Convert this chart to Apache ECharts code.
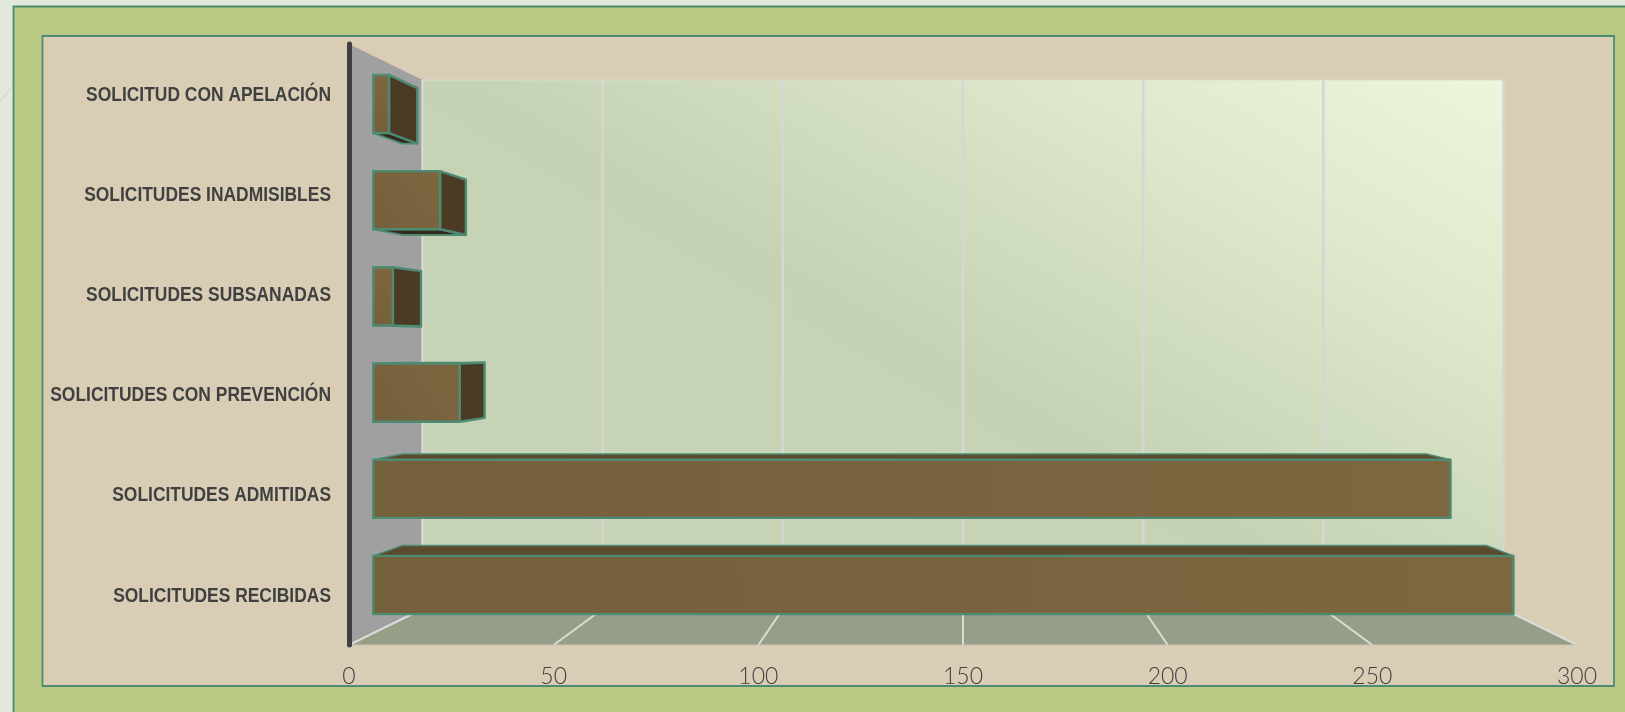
<!DOCTYPE html>
<html><head><meta charset="utf-8">
<style>html,body{margin:0;padding:0;background:#e3e8dc}#c{width:1625px;height:712px}</style>
<script src="https://cdn.jsdelivr.net/npm/echarts@6/dist/echarts.min.js"></script>
</head><body><div id="c"></div>
<script>
const categories = ['SOLICITUDES RECIBIDAS','SOLICITUDES ADMITIDAS','SOLICITUDES CON PREVENCIÓN','SOLICITUDES SUBSANADAS','SOLICITUDES INADMISIBLES','SOLICITUD CON APELACIÓN'];
const values = [290, 274, 22, 5, 17, 4];
const xTicks = [0, 50, 100, 150, 200, 250, 300];

const insetX = 73.5, insetY = 36;
const barNear = 0.33, barFar = 0.726, barShare = 0.605;
const edge = '#4d8c73';

function projector(cs) {
  return (x, y, t) => [
    x + t * insetX * (1 - 2 * (x - cs.x) / cs.width),
    y + t * insetY * (1 - 2 * (y - cs.y) / cs.height)
  ];
}
function poly(points, fill, w) {
  return { type: 'polygon', shape: { points }, style: { fill, stroke: edge, lineWidth: w, lineJoin: 'round' } };
}
function seg(a, b, w, color) {
  return { type: 'line', shape: { x1: a[0], y1: a[1], x2: b[0], y2: b[1] }, style: { stroke: color || '#d6d6d2', lineWidth: w } };
}
function renderRoom(params, api) {
  const cs = params.coordSys, P = projector(cs);
  const L = cs.x, R = cs.x + cs.width, T = cs.y, B = cs.y + cs.height;
  const kids = [];
  const bl = P(L, B, 1), br = P(R, B, 1), tl = P(L, T, 1), tr = P(R, T, 1);
  kids.push({ type: 'polygon', shape: { points: [[L, T], tl, bl, [L, B]] }, style: { fill: '#a0a0a0' } });
  kids.push({ type: 'polygon', shape: { points: [[L, B], bl, br, [R, B]] }, style: { fill: '#979e87' } });
  kids.push({ type: 'polygon', shape: { points: [tl, tr, br, bl] }, style: {
    fill: { type: 'linear', global: true, x: tr[0], y: tr[1], x2: tr[0] - 520, y2: tr[1] + 900, colorStops: [
      { offset: 0, color: '#ecf6dd' }, { offset: 0.2, color: '#dfe9cd' }, { offset: 0.5, color: '#c5d2b4' }, { offset: 1, color: '#c8d5b8' } ] } } });
  xTicks.forEach(v => {
    const f = api.coord([v, 0])[0];
    const bk = P(f, B, 1);
    kids.push(seg(bk, P(f, T, 1), 2.6));
    kids.push(seg([f, B], bk, 2, '#dcdcd6'));
  });
  kids.push(seg([L, B], [R, B], 1.2, '#c6c6b4'));
  kids.push(seg(tl, tr, 1.2, '#dedcd0'));
  return { type: 'group', children: kids };
}
function renderBar(params, api) {
  const cs = params.coordSys, P = projector(cs);
  const c0 = api.coord([0, api.value(1)]), c1 = api.coord([api.value(0), api.value(1)]);
  const h = api.size([0, 1])[1] * barShare;
  const xa = c0[0], xb = c1[0], ya = c0[1] - h / 2, yb = c0[1] + h / 2;
  const n = (x, y) => P(x, y, barNear), f = (x, y) => P(x, y, barFar);
  const kids = [];
  if (f(xa, ya)[1] < n(xa, ya)[1]) kids.push(poly([n(xa, ya), n(xb, ya), f(xb, ya), f(xa, ya)], '#5c4a2f', 1.4));
  if (f(xa, yb)[1] > n(xa, yb)[1]) kids.push(poly([n(xa, yb), n(xb, yb), f(xb, yb), f(xa, yb)], '#33281a', 1.8));
  if (f(xb, ya)[0] > n(xb, ya)[0]) kids.push(poly([n(xb, ya), f(xb, ya), f(xb, yb), n(xb, yb)], '#4b3b25', 2.4));
  kids.push(poly([n(xa, ya), n(xb, ya), n(xb, yb), n(xa, yb)], {
    type: 'linear', x: 0, y: 1, x2: 1, y2: 0,
    colorStops: [{ offset: 0, color: '#75603c' }, { offset: 1, color: '#7e6640' }] }, 2.4));
  return { type: 'group', children: kids };
}
// Condensed bold labels: the narrow face is not installed, so the bold face is scaled horizontally.
function renderLabel(params, api) {
  const c = api.coord([0, api.value(1)]);
  return { type: 'text', x: c[0] - 18, y: c[1] + 1, scaleX: 0.85, silent: true,
    style: { text: categories[api.value(1)], x: 0, y: 0, align: 'right', verticalAlign: 'middle',
      fill: '#404040', font: 'bold 20.5px "Liberation Sans"' } };
}

const chart = echarts.init(document.getElementById('c'), null, { renderer: 'canvas' });
chart.setOption({
  animation: false,
  backgroundColor: '#e3e8dc',
  graphic: [
    { type: 'line', z: -20, shape: { x1: 0, y1: 101, x2: 13, y2: 86 }, style: { stroke: '#cfd4c8', lineWidth: 1 } },
    { type: 'rect', z: -20, shape: { x: 13.5, y: 6.5, width: 1640, height: 740 }, style: { fill: '#b7c982', stroke: edge, lineWidth: 1.8 } },
    { type: 'rect', z: -19, shape: { x: 42.5, y: 36, width: 1571.5, height: 650 }, style: { fill: '#d9cdb6', stroke: edge, lineWidth: 1.8 } }
  ],
  grid: { left: 349, top: 44, width: 1228, height: 601 },
  xAxis: {
    type: 'value', min: xTicks[0], max: xTicks[xTicks.length - 1], interval: 50,
    axisLine: { show: false }, axisTick: { show: false }, splitLine: { show: false },
    axisLabel: { color: '#404040', fontFamily: 'Lato', fontWeight: 300, fontSize: 23, margin: 20 }
  },
  yAxis: {
    type: 'category', data: categories, z: 3,
    axisLine: { show: true, lineStyle: { color: '#404040', width: 5, cap: 'round' } },
    axisTick: { show: false },
    axisLabel: { show: false }
  },
  series: [
    { type: 'custom', name: 'room', z: 1, silent: true, coordinateSystem: 'cartesian2d', clip: false, data: [[0, 0]], renderItem: renderRoom },
    { type: 'custom', name: 'bars', z: 4, coordinateSystem: 'cartesian2d', clip: false, encode: { x: 0, y: 1 },
      data: values.map((v, i) => [v, i]), renderItem: renderBar },
    { type: 'custom', name: 'labels', z: 5, coordinateSystem: 'cartesian2d', clip: false, encode: { x: 0, y: 1 },
      data: categories.map((c, i) => [0, i]), renderItem: renderLabel }
  ]
});
</script></body></html>
